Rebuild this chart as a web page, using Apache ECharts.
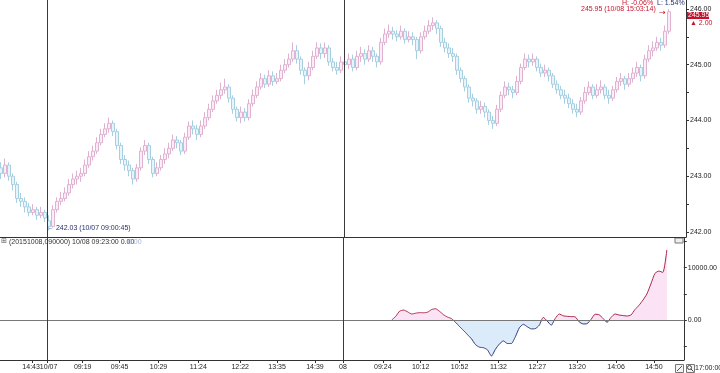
<!DOCTYPE html>
<html>
<head>
<meta charset="utf-8">
<script src="https://cdn.jsdelivr.net/npm/echarts@6/dist/echarts.min.js"></script>
<style>
html, body { margin: 0; padding: 0; background: #fff; }
#chart { width: 720px; height: 373px; }
</style>
</head>
<body>
<div id="chart"></div>
<script>
// price bars: [open, close, low, high]
const priceBars = [
  [243.15, 243.05, 242.95, 243.25], [243.05, 243.2, 242.98, 243.32], [243.2, 243.0, 242.92, 243.25], [243.0, 242.85, 242.75, 243.05],
  [242.85, 242.6, 242.52, 242.9], [242.6, 242.55, 242.45, 242.7], [242.55, 242.45, 242.35, 242.62], [242.45, 242.35, 242.28, 242.52],
  [242.35, 242.4, 242.3, 242.5], [242.4, 242.3, 242.22, 242.45], [242.3, 242.35, 242.25, 242.45], [242.35, 242.25, 242.18, 242.4],
  [242.2, 242.1, 242.03, 242.3], [242.1, 242.4, 242.08, 242.48], [242.4, 242.55, 242.35, 242.62], [242.55, 242.6, 242.48, 242.72],
  [242.6, 242.7, 242.55, 242.8], [242.7, 242.85, 242.65, 242.95], [242.85, 242.95, 242.78, 243.05], [242.95, 243.0, 242.85, 243.1],
  [243.0, 243.05, 242.9, 243.15], [243.05, 243.2, 243.0, 243.3], [243.2, 243.35, 243.15, 243.45], [243.35, 243.45, 243.28, 243.55],
  [243.45, 243.6, 243.4, 243.7], [243.6, 243.75, 243.55, 243.85], [243.75, 243.85, 243.7, 243.95], [243.85, 243.95, 243.78, 244.05],
  [243.95, 243.8, 243.72, 244.0], [243.8, 243.55, 243.48, 243.85], [243.55, 243.3, 243.22, 243.6], [243.3, 243.2, 243.1, 243.38],
  [243.2, 243.1, 243.0, 243.28], [243.1, 242.95, 242.85, 243.15], [242.95, 243.15, 242.9, 243.22], [243.15, 243.45, 243.1, 243.52],
  [243.45, 243.55, 243.38, 243.65], [243.55, 243.3, 243.22, 243.6], [243.3, 243.05, 242.98, 243.35], [243.05, 243.15, 243.0, 243.25],
  [243.15, 243.3, 243.1, 243.38], [243.3, 243.4, 243.22, 243.5], [243.4, 243.5, 243.32, 243.6], [243.5, 243.65, 243.45, 243.75],
  [243.65, 243.6, 243.5, 243.72], [243.6, 243.45, 243.38, 243.65], [243.45, 243.7, 243.4, 243.78], [243.7, 243.9, 243.65, 243.98],
  [243.9, 243.85, 243.75, 244.0], [243.85, 243.75, 243.65, 243.92], [243.75, 243.9, 243.7, 244.0], [243.9, 244.05, 243.85, 244.15],
  [244.05, 244.2, 244.0, 244.3], [244.2, 244.35, 244.15, 244.45], [244.35, 244.45, 244.3, 244.55], [244.45, 244.55, 244.38, 244.68],
  [244.55, 244.6, 244.48, 244.75], [244.6, 244.4, 244.32, 244.65], [244.4, 244.2, 244.12, 244.45], [244.2, 244.05, 243.98, 244.25],
  [244.05, 244.15, 243.95, 244.25], [244.15, 244.05, 243.98, 244.22], [244.05, 244.3, 244.0, 244.38], [244.3, 244.45, 244.25, 244.55],
  [244.45, 244.6, 244.4, 244.7], [244.6, 244.75, 244.55, 244.85], [244.75, 244.65, 244.58, 244.82], [244.65, 244.8, 244.6, 244.9],
  [244.8, 244.7, 244.62, 244.88], [244.7, 244.75, 244.65, 244.85], [244.75, 244.9, 244.7, 245.0], [244.9, 245.0, 244.85, 245.1],
  [245.0, 245.1, 244.95, 245.2], [245.1, 245.25, 245.05, 245.4], [245.25, 245.1, 245.02, 245.35], [245.1, 244.9, 244.82, 245.15],
  [244.9, 244.8, 244.65, 244.95], [244.8, 244.95, 244.72, 245.05], [244.95, 245.15, 244.9, 245.25], [245.15, 245.3, 245.1, 245.4],
  [245.3, 245.2, 245.1, 245.38], [245.2, 245.3, 245.12, 245.4], [245.3, 245.05, 244.98, 245.35], [245.05, 244.95, 244.88, 245.12],
  [244.95, 244.9, 244.82, 245.05], [244.9, 245.05, 244.85, 245.15], [245.05, 245.0, 244.88, 245.12], [245.0, 245.1, 244.92, 245.2],
  [245.1, 244.95, 244.88, 245.18], [244.95, 245.15, 244.9, 245.25], [245.15, 245.2, 245.05, 245.32], [245.2, 245.1, 245.0, 245.28],
  [245.1, 245.25, 245.05, 245.35], [245.25, 245.15, 245.05, 245.32], [245.15, 245.05, 244.95, 245.2], [245.05, 245.4, 245.0, 245.48],
  [245.4, 245.55, 245.35, 245.65], [245.55, 245.6, 245.48, 245.72], [245.6, 245.55, 245.45, 245.68], [245.55, 245.5, 245.42, 245.62],
  [245.5, 245.6, 245.45, 245.7], [245.6, 245.45, 245.38, 245.65], [245.45, 245.5, 245.4, 245.6], [245.5, 245.45, 245.35, 245.58],
  [245.45, 245.25, 245.1, 245.5], [245.25, 245.5, 245.2, 245.58], [245.5, 245.6, 245.45, 245.7], [245.6, 245.7, 245.55, 245.8],
  [245.7, 245.75, 245.62, 245.85], [245.75, 245.65, 245.55, 245.8], [245.65, 245.4, 245.32, 245.7], [245.4, 245.3, 245.22, 245.48],
  [245.3, 245.2, 245.12, 245.38], [245.2, 245.15, 245.05, 245.3], [245.15, 244.9, 244.82, 245.2], [244.9, 244.75, 244.68, 244.95],
  [244.75, 244.6, 244.52, 244.8], [244.6, 244.4, 244.32, 244.65], [244.4, 244.35, 244.25, 244.48], [244.35, 244.2, 244.12, 244.4],
  [244.2, 244.25, 244.12, 244.35], [244.25, 244.15, 244.05, 244.32], [244.15, 244.0, 243.92, 244.2], [244.0, 243.95, 243.85, 244.08],
  [243.95, 244.2, 243.9, 244.28], [244.2, 244.45, 244.15, 244.52], [244.45, 244.6, 244.4, 244.7], [244.6, 244.55, 244.45, 244.68],
  [244.55, 244.5, 244.4, 244.62], [244.5, 244.7, 244.45, 244.8], [244.7, 244.95, 244.65, 245.02], [244.95, 245.1, 244.9, 245.2],
  [245.1, 245.05, 244.95, 245.18], [245.05, 245.1, 244.98, 245.2], [245.1, 244.95, 244.88, 245.15], [244.95, 244.85, 244.78, 245.02],
  [244.85, 244.9, 244.78, 245.0], [244.9, 244.8, 244.7, 244.95], [244.8, 244.65, 244.58, 244.85], [244.65, 244.55, 244.48, 244.72],
  [244.55, 244.45, 244.38, 244.62], [244.45, 244.4, 244.3, 244.55], [244.4, 244.3, 244.22, 244.48], [244.3, 244.2, 244.12, 244.38],
  [244.2, 244.15, 244.06, 244.3], [244.15, 244.35, 244.1, 244.42], [244.35, 244.5, 244.3, 244.6], [244.5, 244.6, 244.45, 244.7],
  [244.6, 244.45, 244.38, 244.65], [244.45, 244.55, 244.4, 244.65], [244.55, 244.6, 244.48, 244.72], [244.6, 244.45, 244.38, 244.65],
  [244.45, 244.4, 244.3, 244.55], [244.4, 244.55, 244.35, 244.62], [244.55, 244.7, 244.5, 244.78], [244.7, 244.75, 244.62, 244.85],
  [244.75, 244.65, 244.55, 244.8], [244.65, 244.75, 244.6, 244.85], [244.75, 244.85, 244.68, 244.95], [244.85, 244.95, 244.78, 245.05],
  [244.95, 244.8, 244.7, 245.0], [244.8, 245.1, 244.75, 245.18], [245.1, 245.25, 245.05, 245.35], [245.25, 245.3, 245.15, 245.42],
  [245.3, 245.4, 245.25, 245.5], [245.4, 245.35, 245.25, 245.48], [245.35, 245.6, 245.3, 245.7], [245.6, 245.95, 245.55, 246.0]
];

// lower indicator, starts at bar 98 (10/08 09:23)
const indicatorStart = 98;
const indicatorValues = [
  0, 700, 1700, 1900, 1550, 1150, 1300, 1400, 1380, 1500,
  2000, 2150, 1650, 1000, 550, 250, -450, -1250, -2000, -2800,
  -3600, -4700, -5200, -5300, -5700, -6900, -5600, -4600, -4000, -4500,
  -4500, -3200, -1500, -830, -1300, -1700, -1650, -1000, 500, -200,
  -1000, 300, 1150, 800, 700, 650, 600, -350, -760, -700,
  130, 1100, 1000, 300, -450, 500, 1150, 950, 850, 760,
  950, 2000, 2800, 3800, 5000, 6900, 8900, 9350, 9100, 13400
];

// x axis: tick positions (bar index), label positions and texts
const tickIdx = [7.75, 11.5, 20.5, 29.75, 39.5, 49.5, 60, 69.25, 78.75, 85.75, 95.75, 105.25, 115, 124.75, 134.5, 144.5, 154.25, 163.75];
const labelIdx = [9.75, 20.5, 29.75, 39.5, 49.5, 60, 69.25, 78.75, 85.75, 95.75, 105.25, 115, 124.75, 134.5, 144.5, 154.25, 163.75];
const labelText = ['14:4310/07', '09:19', '09:45', '10:29', '11:24', '12:22', '13:35', '14:39', '08', '09:24', '10:12', '10:52', '11:32', '12:27', '13:20', '14:06', '14:50'];
const dayLines = [11.5, 85.75];

const priceTicks = [242, 242.5, 243, 243.5, 244, 244.5, 245, 245.5, 246];
const priceLabels = [242, 243, 244, 245, 246];
const indTicks = [-5000, 0, 5000, 10000, 15000];
const indLabels = [0, 10000];

const FONT = 'Liberation Sans';
const red = '#c4142c';
const navy = '#24306e';

let chart = echarts.init(document.getElementById('chart'), null, {renderer: 'canvas'});

function labelFor(v) {
  let best = 0;
  for (let k = 1; k < labelIdx.length; k++) {
    if (Math.abs(labelIdx[k] - v) < Math.abs(labelIdx[best] - v)) {
      best = k;
    }
  }
  return labelText[best];
}

let candles = priceBars.map((b, i) => [i, b[0], b[1], b[2], b[3]]);
let indicator = indicatorValues.map((v, k) => [indicatorStart + k, v]);

let xBase = {
  type: 'value',
  min: -0.25,
  max: 171.25,
  splitLine: {show: false},
  axisLine: {show: true, onZero: false, lineStyle: {color: '#333', width: 1}}
};

function yAxisOf(grid, min, max, ticks, labels) {
  return {
    gridIndex: grid,
    type: 'value',
    position: 'right',
    min: min,
    max: max,
    splitLine: {show: false},
    axisLine: {show: true, onZero: false, lineStyle: {color: '#333'}},
    axisTick: {show: true, inside: false, customValues: ticks, length: 3, lineStyle: {color: '#333'}},
    axisLabel: {
      customValues: labels,
      formatter: v => v.toFixed(2),
      color: '#222',
      fontFamily: FONT,
      fontSize: 7,
      margin: 4
    }
  };
}

let option = {
  animation: false,
  backgroundColor: '#fff',
  grid: [
    {left: 0, right: 34, top: 0, height: 237},
    {left: 0, right: 34, top: 238, height: 122}
  ],
  xAxis: [
    Object.assign({}, xBase, {
      gridIndex: 0,
      axisTick: {show: false},
      axisLabel: {show: false}
    }),
    Object.assign({}, xBase, {
      gridIndex: 1,
      axisTick: {show: true, customValues: tickIdx, length: 3, lineStyle: {color: '#333'}},
      axisLabel: {
        customValues: labelIdx,
        formatter: v => labelFor(v),
        hideOverlap: false,
        color: '#222',
        fontFamily: FONT,
        fontSize: 7,
        margin: 4
      }
    })
  ],
  yAxis: [
    yAxisOf(0, 241.91, 246.16, priceTicks, priceLabels),
    yAxisOf(1, -7650, 15680, indTicks, indLabels)
  ],
  visualMap: [
    {
      show: false,
      type: 'piecewise',
      seriesIndex: 1,
      dimension: 1,
      pieces: [{gt: 0, lte: 100000, color: '#fbe2f4'}, {gte: -100000, lte: 0, color: '#dcebf9'}]
    },
    {
      show: false,
      type: 'piecewise',
      seriesIndex: 2,
      dimension: 1,
      pieces: [{gt: 0, lte: 100000, color: '#a82a4c'}, {gte: -100000, lte: 0, color: '#2c3878'}]
    }
  ],
  series: [
    {
      type: 'candlestick',
      xAxisIndex: 0,
      yAxisIndex: 0,
      barWidth: 3,
      encode: {x: 0, y: [1, 2, 3, 4]},
      itemStyle: {
        color: '#fcecf5',
        color0: '#e8f4f9',
        borderColor: '#e0b2d2',
        borderColor0: '#a6d0e2',
        borderWidth: 1
      },
      data: candles,
      markLine: {
        silent: true,
        symbol: 'none',
        label: {show: false},
        lineStyle: {color: '#3a3a3a', width: 1, type: 'solid'},
        data: dayLines.map(d => ({xAxis: d}))
      }
    },
    {
      type: 'line',
      xAxisIndex: 1,
      yAxisIndex: 1,
      smooth: 0.2,
      showSymbol: false,
      lineStyle: {width: 0},
      areaStyle: {opacity: 1},
      data: indicator,
      z: 1
    },
    {
      type: 'line',
      xAxisIndex: 1,
      yAxisIndex: 1,
      smooth: 0.2,
      showSymbol: false,
      lineStyle: {width: 1},
      data: indicator,
      z: 3,
      markLine: {
        silent: true,
        symbol: 'none',
        label: {show: false},
        lineStyle: {color: '#3a3a3a', width: 1, type: 'solid'},
        data: [{yAxis: 0, lineStyle: {color: '#777'}}].concat(dayLines.map(d => ({xAxis: d})))
      }
    }
  ],
  graphic: [
    // low marker
    {type: 'text', left: 47, top: 225, style: {text: '← 242.03 (10/07 09:00:45)', fill: navy, font: '7px "Liberation Sans"'}},
    // high / last marker
    {type: 'text', left: 622, top: 0, style: {text: 'H: -0.06%', fill: red, font: '7px "Liberation Sans"'}},
    {type: 'text', left: 657, top: 0, style: {text: 'L: 1.54%', fill: navy, font: '7px "Liberation Sans"'}},
    {type: 'text', left: 581, top: 6, style: {text: '245.95 (10/08 15:03:14)', fill: red, font: '7px "Liberation Sans"'}},
    {type: 'text', left: 659, top: 9, style: {text: '→', fill: red, font: '8px "DejaVu Sans"'}},
    {type: 'rect', shape: {x: 687, y: 12, width: 22, height: 7}, style: {fill: '#c8102e'}},
    {type: 'text', left: 688, top: 12, style: {text: '245.95', fill: '#fff', font: '7px "Liberation Sans"'}},
    {type: 'text', left: 690, top: 20, style: {text: '▲ 2.00', fill: red, font: '7px "Liberation Sans"'}},
    // lower panel header
    {type: 'text', left: 1, top: 238, style: {text: '⊞', fill: '#555', font: '7px "DejaVu Sans"'}},
    {type: 'text', left: 9, top: 239, style: {text: '(20151008,090000) 10/08 09:23:00 0.00', fill: '#333', font: '7px "Liberation Sans"'}},
    {type: 'text', left: 128, top: 239, style: {text: '0.00', fill: '#a4b2d2', font: '7px "Liberation Sans"'}},
    {type: 'rect', shape: {x: 675, y: 238, width: 8, height: 5}, style: {fill: '#eee', stroke: '#777', lineWidth: 1}},
    // bottom-right tools
    {type: 'rect', shape: {x: 675.5, y: 364.5, width: 8, height: 8}, style: {fill: '#f4f4f4', stroke: '#777', lineWidth: 1}},
    {type: 'line', shape: {x1: 677, y1: 371, x2: 682, y2: 366}, style: {stroke: '#555', lineWidth: 1}},
    {type: 'rect', shape: {x: 686.5, y: 364.5, width: 8, height: 8}, style: {fill: '#f4f4f4', stroke: '#777', lineWidth: 1}},
    {type: 'circle', shape: {cx: 689.5, cy: 367.5, r: 2}, style: {fill: 'none', stroke: '#444', lineWidth: 1}},
    {type: 'line', shape: {x1: 691, y1: 369, x2: 693.5, y2: 371.5}, style: {stroke: '#444', lineWidth: 1}},
    {type: 'text', left: 695, top: 365, style: {text: '17:00:00', fill: '#222', font: '7px "Liberation Sans"'}}
  ]
};

chart.setOption(option);
</script>
</body>
</html>
